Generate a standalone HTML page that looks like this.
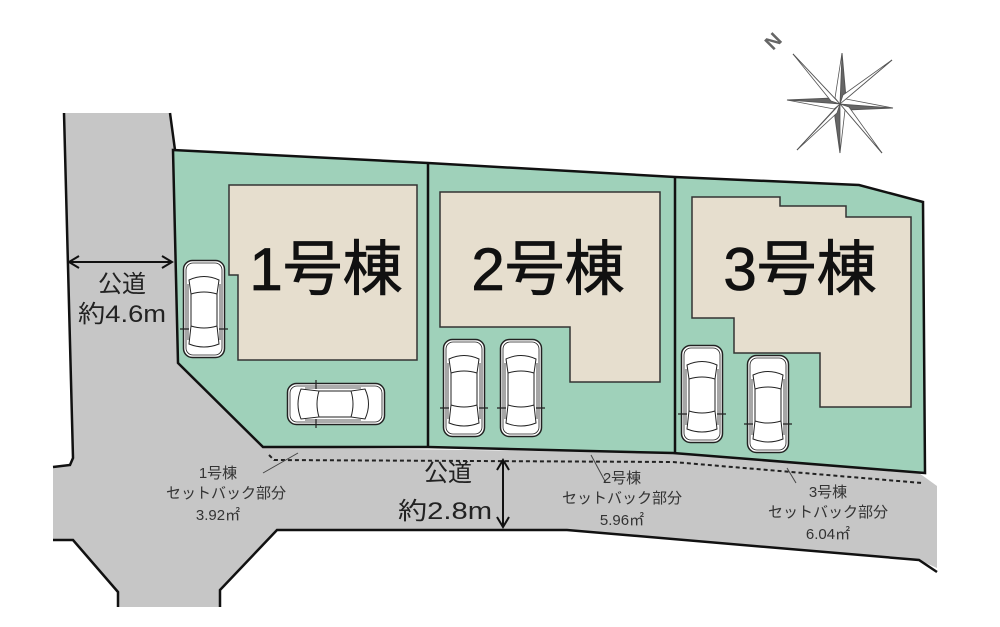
<!DOCTYPE html>
<html><head><meta charset="utf-8"><style>
html,body{margin:0;padding:0;background:#fff;}
svg{display:block;}
text{font-family:"Liberation Sans","Noto Sans CJK JP",sans-serif;}
</style></head><body>
<svg width="1000" height="627" viewBox="0 0 1000 627" xmlns="http://www.w3.org/2000/svg">
<defs>
<g id="car">
  <rect x="0.5" y="0.5" width="41" height="97" rx="9" fill="#fff" stroke="#222" stroke-width="1.5"/>
  <rect x="3" y="3" width="36" height="92" rx="7" fill="none" stroke="#222" stroke-width="0.8"/>
  <path d="M6 20 Q21 13 36 20 L34 34 Q21 30 8 34 Z" fill="none" stroke="#222" stroke-width="1"/>
  <path d="M8 34 L8 66 M34 34 L34 66" stroke="#222" stroke-width="1"/>
  <path d="M8 66 Q21 70 34 66 L36 84 Q21 90 6 84 Z" fill="none" stroke="#222" stroke-width="1"/>
  <path d="M5 24 L5 80 M37 24 L37 80" stroke="#222" stroke-width="0.8"/>
  <path d="M-3 69 L6 69 M36 69 L45 69" stroke="#222" stroke-width="1.2"/>
</g>
</defs>
<!-- roads -->
<path d="M64 113 L170 113 L175 150 L178 363 L263 447 L673 453 L919 473 L937 486 L937 568 L919 560 L567 530 L277 530 L220 590 L220 607 L118 607 L118 592 L73 540 L53 540 L53 467 L70 465 L73 458 Z" fill="#c6c6c6"/>
<path d="M64 113 L73 458 L70 465 L53 467 M53 540 L73 540 L118 592 L118 607 M220 607 L220 590 L277 530 L567 530 L919 560 L937 572 M170 113 L175 150" fill="none" stroke="#111" stroke-width="2.5"/>
<!-- lots -->
<path d="M173 150 L428 163 L675 177 L859 185 L923 202 L925 473 L673 453 L428 447 L263 447 L178 363 Z" fill="#9fd1ba" stroke="#111" stroke-width="2.5"/>
<path d="M428 163 L428 447 M675 177 L675 453" stroke="#111" stroke-width="2.5"/>
<!-- houses -->
<path d="M229 185 L417 185 L417 360 L238 360 L238 275 L229 275 Z" fill="#e6dece" stroke="#333" stroke-width="1.5"/>
<path d="M440 192 L660 192 L660 382 L570 382 L570 327 L440 327 Z" fill="#e6dece" stroke="#333" stroke-width="1.5"/>
<path d="M692 197 L780 197 L780 206 L846 206 L846 217 L911 217 L911 407 L820 407 L820 353 L734 353 L734 318 L692 318 Z" fill="#e6dece" stroke="#333" stroke-width="1.5"/>
<g font-size="60" text-anchor="middle" fill="#111" stroke="#111" stroke-width="0.8">
<text x="326" y="290">1号棟</text>
<text x="548" y="290">2号棟</text>
<text x="800" y="290">3号棟</text>
</g>
<!-- cars -->
<use href="#car" x="183" y="260"/>
<use href="#car" transform="translate(385,383) rotate(90)"/>
<use href="#car" x="443" y="339"/>
<use href="#car" x="500" y="339"/>
<use href="#car" x="681" y="345"/>
<use href="#car" x="747" y="355"/>
<!-- setback dotted -->
<path d="M269 455 L274 460 L673 462 L922 483" fill="none" stroke="#222" stroke-width="2" stroke-dasharray="4 3"/>
<path d="M298 453 L263 473 M591 455 L606 483 M787 468 L796 483" stroke="#444" stroke-width="1"/>
<!-- labels -->
<g font-size="15" fill="#333" text-anchor="middle">
<text x="218" y="478">1号棟</text>
<text x="226" y="498">セットバック部分</text>
<text x="218" y="520">3.92㎡</text>
<text x="622" y="483">2号棟</text>
<text x="622" y="503">セットバック部分</text>
<text x="622" y="525">5.96㎡</text>
<text x="828" y="497">3号棟</text>
<text x="828" y="517">セットバック部分</text>
<text x="828" y="539">6.04㎡</text>
</g>
<g font-size="24" fill="#222" text-anchor="middle">
<text x="448" y="481">公道</text>
<text x="445" y="519" textLength="94" lengthAdjust="spacingAndGlyphs">約2.8m</text>
<text x="122" y="292">公道</text>
<text x="122" y="322" textLength="88" lengthAdjust="spacingAndGlyphs">約4.6m</text>
</g>
<!-- arrows -->
<path d="M503 462 L503 525" stroke="#111" stroke-width="2"/>
<path d="M497 470 L503 460 L509 470 M497 517 L503 527 L509 517" fill="none" stroke="#111" stroke-width="2"/>
<path d="M70 262 L171 262" stroke="#111" stroke-width="2"/>
<path d="M79 256 L69 262 L79 268 M162 256 L172 262 L162 268" fill="none" stroke="#111" stroke-width="2"/>
<!-- compass -->
<g transform="translate(840,104)">
  <g fill="#666" stroke="#555" stroke-width="1">
    <path d="M0 0 L-47 -50 L-8 -8 Z M0 0 L52 -44 L8 -8 Z M0 0 L42 49 L8 8 Z M0 0 L-43 46 L-8 8 Z"/>
    <path d="M0 0 L2 -51 L6 -6 Z M0 0 L53 4 L6 6 Z M0 0 L0 49 L-6 6 Z M0 0 L-53 -4 L-6 -6 Z"/>
  </g>
  <g fill="#fff" stroke="#555" stroke-width="0.8">
    <path d="M0 0 L-47 -50 L-9 -3 Z M0 0 L52 -44 L3 -9 Z M0 0 L42 49 L9 3 Z M0 0 L-43 46 L-3 9 Z"/>
    <path d="M0 0 L2 -51 L-5 -6 Z M0 0 L53 4 L6 -5 Z M0 0 L0 49 L5 6 Z M0 0 L-53 -4 L-6 5 Z"/>
  </g>
  <text x="-62" y="-58" font-size="20" font-weight="bold" fill="#666" transform="rotate(-45 -62 -58)" text-anchor="middle">N</text>
</g>
</svg>
</body></html>
